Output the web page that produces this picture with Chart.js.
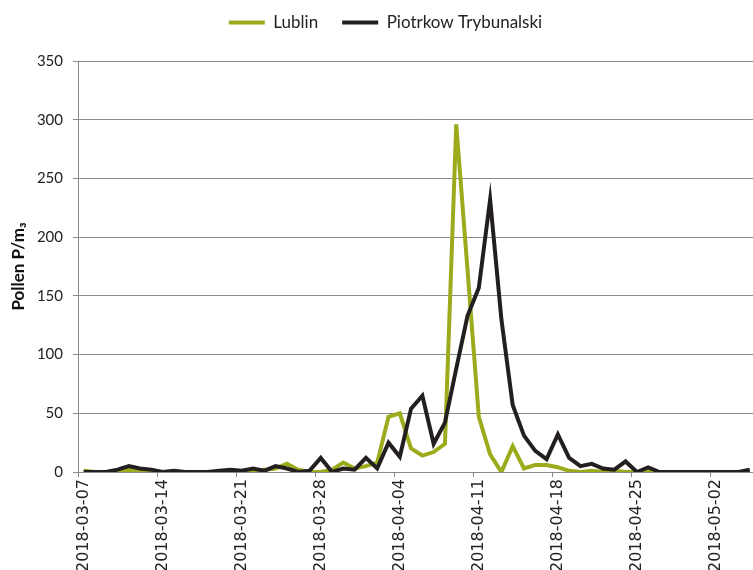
<!DOCTYPE html>
<html lang="en">
<head>
  <meta charset="UTF-8">
  <title>Pollen P/m3 – Lublin vs Piotrkow Trybunalski</title>
  <script src="https://cdn.jsdelivr.net/npm/chart.js"></script>
  <style>
    html, body {
      margin: 0;
      padding: 0;
      background: #fff;
      overflow: hidden;
    }
    /* chart is a bit larger than the window: the bottom of the date labels
       and the right edge get cut off like in the original */
    .wrap {
      width: 771px;
      height: 602px;
      position: relative;
    }
  </style>
</head>
<body>
  <div class="wrap">
    <canvas id="pollenChart"></canvas>
  </div>

  <script>
    const dates = [
      '2018-03-07', '2018-03-08', '2018-03-09', '2018-03-10', '2018-03-11', '2018-03-12', '2018-03-13',
      '2018-03-14', '2018-03-15', '2018-03-16', '2018-03-17', '2018-03-18', '2018-03-19', '2018-03-20',
      '2018-03-21', '2018-03-22', '2018-03-23', '2018-03-24', '2018-03-25', '2018-03-26', '2018-03-27',
      '2018-03-28', '2018-03-29', '2018-03-30', '2018-03-31', '2018-04-01', '2018-04-02', '2018-04-03',
      '2018-04-04', '2018-04-05', '2018-04-06', '2018-04-07', '2018-04-08', '2018-04-09', '2018-04-10',
      '2018-04-11', '2018-04-12', '2018-04-13', '2018-04-14', '2018-04-15', '2018-04-16', '2018-04-17',
      '2018-04-18', '2018-04-19', '2018-04-20', '2018-04-21', '2018-04-22', '2018-04-23', '2018-04-24',
      '2018-04-25', '2018-04-26', '2018-04-27', '2018-04-28', '2018-04-29', '2018-04-30', '2018-05-01',
      '2018-05-02', '2018-05-03', '2018-05-04', '2018-05-05'
    ];

    const lublin = [
      1, 0, 0, 1, 2, 1, 0,
      0, 0, 0, 0, 0, 0, 0,
      0, 0, 2, 3, 7, 2, 0,
      0, 2, 8, 3, 5, 8, 47,
      50, 20, 14, 17, 24, 296, 172,
      47, 15, 0, 22, 3, 6, 6,
      4, 1, 0, 1, 0, 1, 0,
      0, 0, 0, 0, 0, 0, 0,
      0, 0, 0, 0
    ];

    const piotrkow = [
      0, 0, 0, 2, 5, 3, 2,
      0, 1, 0, 0, 0, 1, 2,
      1, 3, 1, 5, 3, 0, 1,
      12, 0, 3, 2, 12, 3, 25,
      13, 54, 65, 24, 42, 88, 133,
      157, 232, 130, 57, 31, 18, 11,
      32, 12, 5, 7, 3, 2, 9,
      0, 4, 0, 0, 0, 0, 0,
      0, 0, 0, 2
    ];

    const yTicks = [0, 50, 100, 150, 200, 250, 300, 350];

    const GREEN = '#9bab1b';
    const BLACK = '#231f20';
    const GRID = '#8a8a8a';
    const FONT = 'Lato, "Open Sans", sans-serif';

    // leave some room between the legend and the plot
    const legendGap = {
      id: 'legendGap',
      beforeInit(chart) {
        const fit = chart.legend.fit;
        chart.legend.fit = function () {
          fit.call(this);
          this.height += 20;
        };
      }
    };

    new Chart(document.getElementById('pollenChart'), {
      type: 'line',
      data: {
        labels: dates,
        datasets: [
          {
            label: 'Lublin',
            data: lublin,
            borderColor: GREEN,
            backgroundColor: GREEN,
            borderWidth: 4,
            pointRadius: 0,
            tension: 0,
            order: 2
          },
          {
            label: 'Piotrkow Trybunalski',
            data: piotrkow,
            borderColor: BLACK,
            backgroundColor: BLACK,
            borderWidth: 4,
            pointRadius: 0,
            tension: 0,
            order: 1
          }
        ]
      },
      options: {
        responsive: true,
        maintainAspectRatio: false,
        animation: false,
        layout: { padding: { top: -10, right: 0, bottom: 0, left: 0 } },
        plugins: {
          legend: {
            position: 'top',
            labels: {
              usePointStyle: true,
              pointStyle: 'line',
              pointStyleWidth: 36,
              padding: 24,
              color: '#222',
              font: { family: FONT, size: 17 },
              sort: (a, b) => a.datasetIndex - b.datasetIndex
            }
          },
          tooltip: { enabled: false }
        },
        scales: {
          x: {
            type: 'category',
            offset: true,
            afterFit: s => { s.height = 130; },
            grid: {
              display: true,
              drawOnChartArea: false,
              drawTicks: true,
              tickLength: 5,
              offset: true,
              tickColor: ctx => (ctx.index % 7 === 0 ? GRID : 'rgba(0,0,0,0)')
            },
            border: { display: true, color: GRID, width: 1 },
            ticks: {
              autoSkip: false,
              minRotation: 90,
              maxRotation: 90,
              padding: 2,
              color: '#222',
              font: { family: '"DejaVu Sans", sans-serif', size: 16 },
              callback: (v, i) => (i % 7 === 0 ? dates[i] : '')
            }
          },
          y: {
            min: 0,
            max: 350,
            afterFit: s => { s.width = 78; },
            afterBuildTicks: s => { s.ticks = yTicks.map(v => ({ value: v })); },
            grid: {
              color: GRID,
              lineWidth: 1,
              drawTicks: true,
              tickLength: 5
            },
            border: { display: true, color: GRID, width: 1 },
            ticks: {
              padding: 10,
              color: '#222',
              font: { family: FONT, size: 15 }
            },
            title: {
              display: true,
              text: 'Pollen P/m\u2083',
              color: '#111',
              padding: { top: 8, bottom: 4 },
              font: { family: FONT, size: 17, weight: 'bold' }
            }
          }
        }
      },
      plugins: [legendGap]
    });
  </script>
</body>
</html>
